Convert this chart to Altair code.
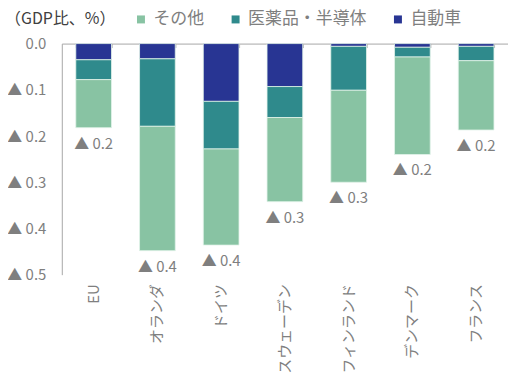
import altair as alt
import pandas as pd

countries = ["EU", "オランダ", "ドイツ", "スウェーデン", "フィンランド", "デンマーク", "フランス"]
series = ["その他", "医薬品・半導体", "自動車"]
other = [0.104, 0.269, 0.208, 0.182, 0.199, 0.211, 0.150]
pharma = [0.043, 0.146, 0.103, 0.067, 0.095, 0.021, 0.031]
auto = [0.035, 0.033, 0.125, 0.093, 0.006, 0.008, 0.006]
total_labels = ["▲ 0.2", "▲ 0.4", "▲ 0.4", "▲ 0.3", "▲ 0.3", "▲ 0.2", "▲ 0.2"]
colors = ["#88C3A3", "#2F8A8C", "#283593"]
y_ticks = [0, -0.1, -0.2, -0.3, -0.4, -0.5]
y_tick_labels = ["0.0", "▲ 0.1", "▲ 0.2", "▲ 0.3", "▲ 0.4", "▲ 0.5"]

FONT = "Noto Sans CJK JP"
GRAY = "#7f7f7f"
AXIS = "#a6a6a6"

rows = []
for i, c in enumerate(countries):
    for s, vals, rank in [("自動車", auto, 0), ("医薬品・半導体", pharma, 1), ("その他", other, 2)]:
        rows.append({"country": c, "series": s, "value": -vals[i], "rank": rank})
df = pd.DataFrame(rows)
tot = pd.DataFrame({
    "country": countries,
    "total": [-(a + b + c) for a, b, c in zip(other, pharma, auto)],
    "label": total_labels,
})

label_expr = "'" + y_tick_labels[-1] + "'"
for t, l in reversed(list(zip(y_ticks[:-1], y_tick_labels[:-1]))):
    label_expr = f"datum.value > {t - 0.05:.2f} ? '{l}' : ({label_expr})"

x_scale = alt.Scale(domain=countries, paddingInner=0.44, paddingOuter=0.22)
y_scale = alt.Scale(domain=[-0.5, 0], nice=False)

y_axis = alt.Axis(values=y_ticks, labelExpr=label_expr, title=None, grid=False, ticks=False,
                  domainColor=AXIS, labelPadding=16, labelFont=FONT, labelFontSize=15,
                  labelColor=GRAY)

bars = alt.Chart(df).mark_bar(stroke="#e2f2ea", strokeWidth=0.8).encode(
    x=alt.X("country:N", sort=countries, scale=x_scale,
            axis=alt.Axis(orient="bottom", title=None, labelAngle=-90, domain=False, ticks=False,
                          labelPadding=9, labelFont=FONT, labelFontSize=15, labelColor=GRAY)),
    y=alt.Y("value:Q", stack="zero", scale=y_scale, axis=y_axis),
    color=alt.Color("series:N", scale=alt.Scale(domain=series, range=colors),
                    legend=alt.Legend(orient="none", legendX=-57, legendY=-33, direction="horizontal",
                                      title="（GDP比、%）", titleOrient="left", titleFont=FONT,
                                      titleFontSize=16, titleFontWeight="normal", titleColor="#404040",
                                      titlePadding=17, titleBaseline="middle", titleLimit=0,
                                      symbolType="square", symbolSize=64,
                                      symbolStrokeWidth=0, labelFont=FONT, labelFontSize=17,
                                      labelColor=GRAY, columnPadding=23, labelOffset=4,
                                      labelLimit=0)),
    order=alt.Order("rank:Q"),
)

texts = alt.Chart(tot).mark_text(baseline="top", dy=9, font=FONT, fontSize=15, color=GRAY).encode(
    x=alt.X("country:N", sort=countries, scale=x_scale,
            axis=alt.Axis(orient="bottom", offset=-232, labels=False, title=None, domainColor=AXIS,
                          tickColor=AXIS, tickSize=4, tickBand="extent")),
    y=alt.Y("total:Q", scale=y_scale),
    text="label:N",
)

chart = alt.layer(bars, texts).resolve_axis(x="independent").properties(
    width=448, height=232, autosize="none",
    padding={"left": 54, "top": 35, "right": 0, "bottom": 100},
).configure_view(stroke=None)

chart.save("out.html", embed_options={"renderer": "svg", "actions": False})
